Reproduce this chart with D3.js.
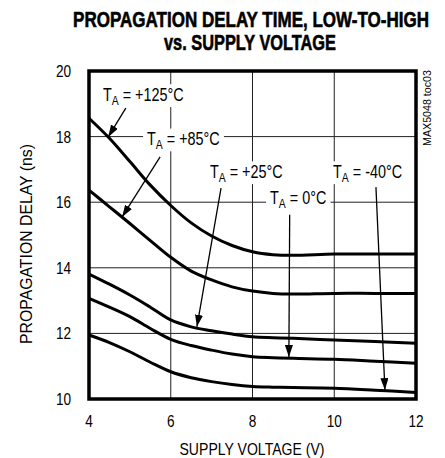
<!DOCTYPE html>
<html>
<head>
<meta charset="utf-8">
<script src="https://cdn.jsdelivr.net/npm/d3@7"></script>
<style>
  body { margin: 0; background: #fff; }
  text { font-family: "Liberation Sans", Arial, sans-serif; }
</style>
</head>
<body>
<script>
// supply voltage (V)
const voltage = [4, 4.5, 5, 5.5, 6, 6.5, 7, 7.5, 8, 8.5, 9, 10, 11, 12]
// propagation delay (ns) per ambient temperature
const t125 = [18.56, 17.95, 17.24, 16.52, 15.9, 15.37, 14.97, 14.68, 14.49, 14.4, 14.38, 14.42, 14.42, 14.42]
const t85  = [16.37, 15.86, 15.35, 14.83, 14.32, 13.9, 13.63, 13.42, 13.29, 13.22, 13.2, 13.22, 13.22, 13.22]
const t25  = [13.81, 13.5, 13.17, 12.8, 12.41, 12.2, 12.08, 11.98, 11.9, 11.87, 11.85, 11.8, 11.75, 11.7]
const t0   = [13.07, 12.8, 12.51, 12.15, 11.82, 11.63, 11.49, 11.37, 11.29, 11.26, 11.24, 11.21, 11.15, 11.09]
const tm40 = [11.95, 11.72, 11.44, 11.12, 10.83, 10.65, 10.53, 10.44, 10.38, 10.36, 10.35, 10.33, 10.27, 10.2]
const seriesList = [t125, t85, t25, t0, tm40]

const xTicks = [4, 6, 8, 10, 12]
const yTicks = [10, 12, 14, 16, 18, 20]

const titleLines = ['PROPAGATION DELAY TIME, LOW-TO-HIGH', 'vs. SUPPLY VOLTAGE']

// annotation labels: text position and arrow (start -> tip) in data units
const labelTemps = ['+125°C', '+85°C', '+25°C', '0°C', '-40°C']
const labelPos = [[4.34, 19.09], [5.42, 17.74], [6.96, 16.74], [8.43, 15.95], [9.97, 16.74]]
const arrowFrom = [[4.9, 18.87], [5.74, 17.38], [7.23, 16.43], [8.91, 15.62], [11.02, 16.46]]
const arrowTo = [[4.47, 17.99], [4.81, 15.55], [6.64, 12.2], [8.89, 11.28], [11.24, 10.27]]

const w = 445
const h = 458
const pLeft = 89, pRight = 416, pTop = 71, pBottom = 399
const narrow = 0.8

const svg = d3.select('body').append('svg')
  .attr('width', w)
  .attr('height', h)

const x = d3.scaleLinear().domain([4, 12]).range([pLeft, pRight])
const y = d3.scaleLinear().domain([10, 20]).range([pBottom, pTop])

svg.append('defs').append('marker')
  .attr('id', 'head')
  .attr('viewBox', '0 0 12 8')
  .attr('refX', 12).attr('refY', 4)
  .attr('markerWidth', 12).attr('markerHeight', 8)
  .attr('markerUnits', 'userSpaceOnUse')
  .attr('orient', 'auto')
  .append('path').attr('d', 'M0,0 L12,4 L0,8 Z').attr('fill', '#000')

// title, squeezed horizontally to the condensed look
const titleWidths = [356, 172]
const titleCenters = [251, 250]
titleLines.forEach((s, i) => {
  const t = svg.append('text')
    .attr('text-anchor', 'middle').attr('font-size', 22).attr('font-weight', 'bold')
    .attr('stroke', '#000').attr('stroke-width', 0.6)
    .text(s)
  const sx = titleWidths[i] / t.node().getComputedTextLength()
  t.attr('transform', `translate(${titleCenters[i]},${27 + i * 23}) scale(${sx},1)`)
})

// grid
svg.append('g').selectAll('line')
  .data(xTicks.slice(1, -1)).enter().append('line')
  .attr('x1', d => x(d)).attr('x2', d => x(d))
  .attr('y1', pTop).attr('y2', pBottom)
  .attr('stroke', '#222').attr('stroke-width', 1)
svg.append('g').selectAll('line')
  .data(yTicks.slice(1, -1)).enter().append('line')
  .attr('x1', pLeft).attr('x2', pRight)
  .attr('y1', d => y(d)).attr('y2', d => y(d))
  .attr('stroke', '#222').attr('stroke-width', 1)

// tick labels
svg.append('g').selectAll('text')
  .data(xTicks).enter().append('text')
  .attr('transform', d => `translate(${x(d)},427) scale(${narrow},1)`)
  .attr('text-anchor', 'middle').attr('font-size', 17)
  .text(d => d)
svg.append('g').selectAll('text')
  .data(yTicks).enter().append('text')
  .attr('transform', d => `translate(71,${y(d) + 6}) scale(${narrow},1)`)
  .attr('text-anchor', 'end').attr('font-size', 17)
  .text(d => d)

// axis titles
svg.append('text').attr('x', 252).attr('y', 455)
  .attr('text-anchor', 'middle').attr('font-size', 17)
  .attr('textLength', 145).attr('lengthAdjust', 'spacingAndGlyphs')
  .text('SUPPLY VOLTAGE (V)')
svg.append('text')
  .attr('transform', 'translate(32,244) rotate(-90)')
  .attr('text-anchor', 'middle').attr('font-size', 17)
  .attr('textLength', 200).attr('lengthAdjust', 'spacingAndGlyphs')
  .text('PROPAGATION DELAY (ns)')
svg.append('text')
  .attr('transform', 'translate(431,70) rotate(-90)')
  .attr('text-anchor', 'end').attr('font-size', 11)
  .attr('textLength', 76).attr('lengthAdjust', 'spacingAndGlyphs')
  .text('MAX5048 toc03')

// labels (with white boxes that break the grid)
const labels = svg.append('g').selectAll('g')
  .data(labelTemps).enter().append('g')
  .attr('transform', (d, i) => `translate(${x(labelPos[i][0])},${y(labelPos[i][1])}) scale(${narrow},1)`)
labels.each(function (d) {
  const g = d3.select(this)
  const t = g.append('text').attr('font-size', 18)
  t.append('tspan').text('T')
  t.append('tspan').attr('font-size', 13).attr('dy', 4).text('A')
  t.append('tspan').attr('dy', -4).text(' = ' + d)
  const b = t.node().getBBox()
  g.insert('rect', 'text')
    .attr('x', b.x - 5).attr('y', b.y)
    .attr('width', b.width + 10).attr('height', b.height)
    .attr('fill', '#fff')
})

// curves
const line = d3.line()
  .x((d, i) => x(voltage[i]))
  .y(d => y(d))
  .curve(d3.curveCatmullRom)
svg.append('g').selectAll('path')
  .data(seriesList).enter().append('path')
  .attr('d', line)
  .attr('fill', 'none').attr('stroke', '#000').attr('stroke-width', 3)

// arrows
svg.append('g').selectAll('line')
  .data(arrowFrom).enter().append('line')
  .attr('x1', d => x(d[0])).attr('y1', d => y(d[1]))
  .attr('x2', (d, i) => x(arrowTo[i][0])).attr('y2', (d, i) => y(arrowTo[i][1]))
  .attr('stroke', '#000').attr('stroke-width', 1.3)
  .attr('marker-end', 'url(#head)')

// frame
svg.append('rect')
  .attr('x', pLeft).attr('y', pTop)
  .attr('width', pRight - pLeft).attr('height', pBottom - pTop)
  .attr('fill', 'none').attr('stroke', '#000').attr('stroke-width', 3.5)
</script>
</body>
</html>
